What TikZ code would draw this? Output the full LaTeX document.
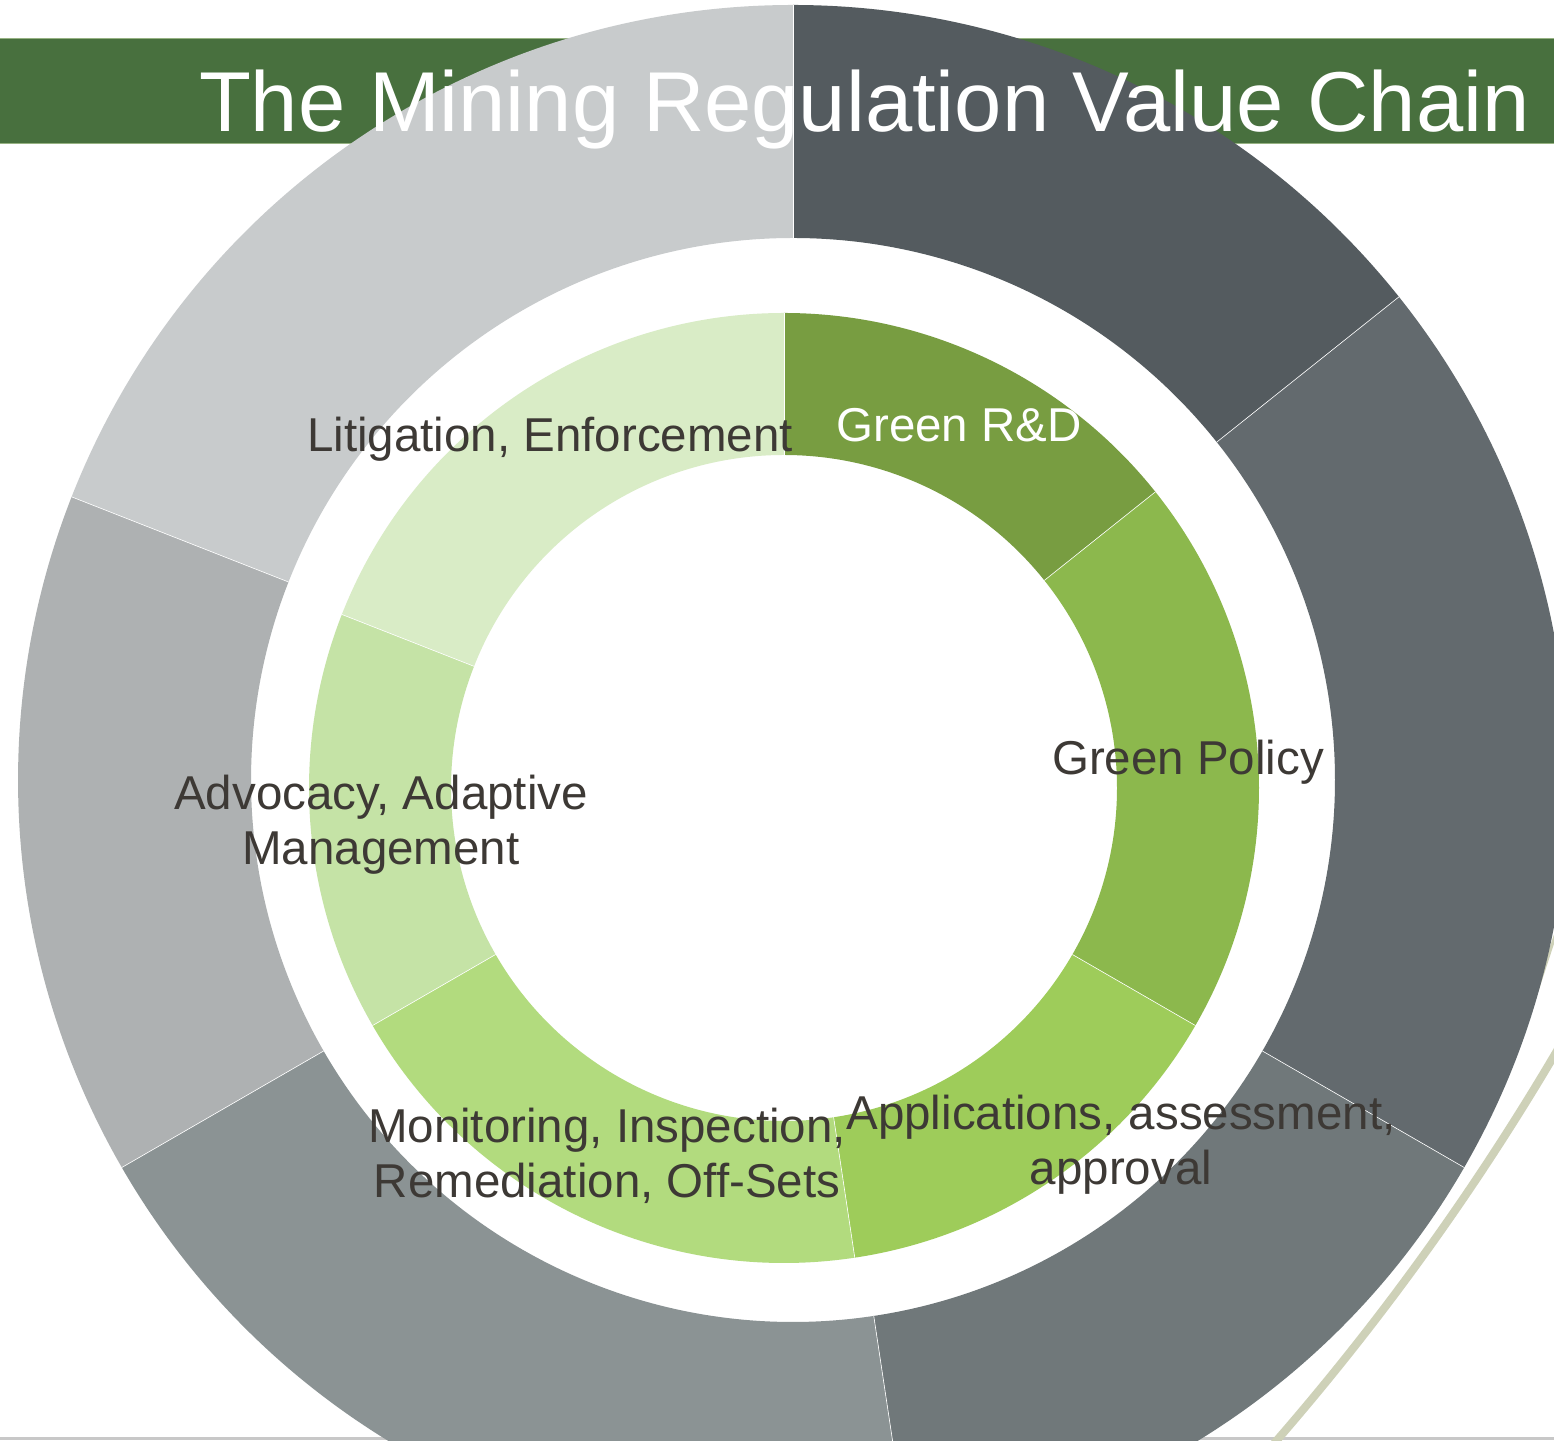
\documentclass[tikz,border=0pt]{standalone}
\usepackage{fontspec}
\setmainfont{Liberation Sans}
\definecolor{oA}{RGB}{84,91,95}
\definecolor{oB}{RGB}{99,106,110}
\definecolor{oC}{RGB}{112,120,122}
\definecolor{oD}{RGB}{139,147,148}
\definecolor{oE}{RGB}{174,177,178}
\definecolor{oF}{RGB}{200,203,204}
\definecolor{gA}{RGB}{120,157,65}
\definecolor{gB}{RGB}{140,184,77}
\definecolor{gC}{RGB}{158,204,90}
\definecolor{gD}{RGB}{178,219,126}
\definecolor{gE}{RGB}{197,227,166}
\definecolor{gF}{RGB}{217,236,198}
\definecolor{titlegreen}{RGB}{72,112,62}
\definecolor{titleedge}{RGB}{150,178,130}
\definecolor{textc}{RGB}{61,57,53}
\definecolor{olivec}{RGB}{206,209,184}
\definecolor{baseg}{RGB}{200,200,200}
\tikzset{
  lbl/.style={font=\fontsize{47.5}{55}\selectfont, text=textc, inner sep=0pt},
  seam/.style={draw=white, line width=0.6pt},
  oliveline/.style={draw=olivec, line cap=butt},
}
\begin{document}
\begin{tikzpicture}[x=1pt,y=1pt]
\useasboundingbox (0,0) rectangle (1554,1440);
\fill[white] (0,0) rectangle (1554,1440);
% bottom rule
\fill[baseg] (0,0) rectangle (1554,3);
% title bar
\fill[titlegreen] (0,1296) rectangle (1554,1401);
\draw[titleedge, line width=1pt] (0,1401) -- (1554,1401);
\draw[titleedge, line width=1pt] (0,1296) -- (1554,1296);
% decorative olive arcs
\coordinate (arcc) at (-708,1722);
\draw[oliveline, line width=8pt] (arcc) ++(-29:2628) arc[start angle=-29, end angle=-42.5, radius=2628];
\draw[oliveline, line width=3pt] (1562,525) .. controls (1552,495) .. (1534,440);
% outer ring
\coordinate (oc) at (793,660);
\begin{scope}[shift={(oc)}]
\foreach \a/\b/\c in {90/38.57/oA, 38.57/-30/oB, -30/-81.43/oC, -81.43/-150/oD, -150/-201.43/oE, -201.43/-270/oF}{
  \fill[\c] (\a:775) arc[start angle=\a, end angle=\b, radius=775] -- (\b:542) arc[start angle=\b, end angle=\a, radius=542] -- cycle;
}
\foreach \a in {90,38.57,-30,-81.43,-150,-201.43}{
  \draw[seam] (\a:542) -- (\a:775);
}
\end{scope}
% inner ring
\coordinate (gc) at (784,652);
\begin{scope}[shift={(gc)}]
\foreach \a/\b/\c in {90/38.57/gA, 38.57/-30/gB, -30/-81.43/gC, -81.43/-150/gD, -150/-201.43/gE, -201.43/-270/gF}{
  \fill[\c] (\a:475) arc[start angle=\a, end angle=\b, radius=475] -- (\b:333) arc[start angle=\b, end angle=\a, radius=333] -- cycle;
}
\foreach \a in {90,38.57,-30,-81.43,-150,-201.43}{
  \draw[seam] (\a:333) -- (\a:475);
}
\end{scope}
% title
\node[font=\fontsize{85}{90}\selectfont, text=white, anchor=base, inner sep=0pt] (title) at (864.5,1308) {The Mining Regulation Value Chain};
% labels
\node[lbl, text=white, anchor=base] (rd) at (959,998) {Green R\&D};
\node[lbl, anchor=base] (policy) at (1188,665) {Green Policy};
\node[lbl, anchor=base] (litigation) at (550,988) {Litigation, Enforcement};
\node[lbl, anchor=base, align=center] (advocacy) at (381,575) {Advocacy, Adaptive\\Management};
\node[lbl, anchor=base, align=center] (monitor) at (607,243) {Monitoring, Inspection,\\Remediation, Off-Sets};
\node[lbl, anchor=base, align=center] (apps) at (1121,255) {Applications, assessment,\\approval};
\end{tikzpicture}
\end{document}
